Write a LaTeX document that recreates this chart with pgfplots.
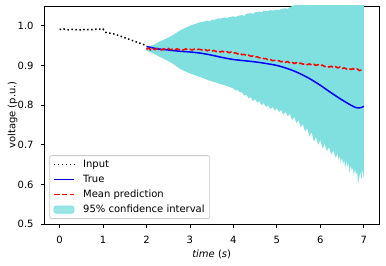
\documentclass[border=0pt]{standalone}
\usepackage{pgfplots}
\pgfplotsset{compat=1.18}
\usepackage{fontspec}
\setmainfont{DejaVu Sans}
\definecolor{bandc}{rgb}{0.5,0.875,0.875}
\definecolor{legframe}{rgb}{0.8,0.8,0.8}
\begin{document}
\fontsize{10}{12}\selectfont
\begin{tikzpicture}
\begin{axis}[
  scale only axis,
  width=334.7pt, height=218pt,
  xmin=-0.35, xmax=7.35, ymin=0.5, ymax=1.05,
  xtick={0,1,2,3,4,5,6,7},
  ytick={0.5,0.6,0.7,0.8,0.9,1.0},
  xtick pos=left, ytick pos=left,
  tick align=outside,
  major tick length=3.5pt,
  every tick/.style={line width=0.8pt, black},
  axis line style={line width=0.8pt},
  /pgf/number format/assume math mode=true,
  yticklabel style={/pgf/number format/.cd, fixed, fixed zerofill, precision=1},
  xticklabel shift=5pt,
  yticklabel shift=3.7pt,
  ticklabel style={font=\fontsize{10}{12}\selectfont},
  label style={font=\fontsize{10}{12}\selectfont},
  every axis x label/.style={at={(axis description cs:0.5,-0.152)}, anchor=base},
  every axis y label/.style={at={(axis description cs:-0.0866,0.5)}, rotate=90, anchor=base},
  xlabel={\textit{time} (\textit{s})},
  ylabel={voltage (p.u.)},
  legend cell align=left,
  legend style={at={(axis description cs:0,0)}, anchor=south west, xshift=5pt, yshift=5pt,
    draw=legframe, line width=0.8pt, rounded corners=2pt, fill=white, fill opacity=0.8, text opacity=1,
    font=\fontsize{10}{12}\selectfont,
    inner xsep=3.5pt, inner ysep=1.5pt, row sep=0pt, column sep=7pt,
    nodes={inner xsep=1.5pt, inner ysep=2pt, text height=8pt, text depth=3pt}},
  legend image code/.code={\draw[line width=1.5pt, #1] (0pt,0pt) -- (20pt,0pt);},
]
% confidence band
\addplot[fill=bandc, draw=none, forget plot] coordinates {
(2.00,0.945) (2.10,0.949) (2.20,0.954) (2.30,0.960) (2.40,0.965) (2.50,0.970)
(2.60,0.976) (2.70,0.983) (2.80,0.990) (2.90,0.995) (3.00,1.000) (3.10,1.004)
(3.20,1.008) (3.30,1.010) (3.40,1.013) (3.45,1.011) (3.50,1.015) (3.60,1.016)
(3.65,1.019) (3.70,1.018) (3.80,1.021) (3.85,1.019) (3.90,1.022) (4.00,1.024)
(4.05,1.022) (4.10,1.025) (4.20,1.027) (4.25,1.025) (4.30,1.030) (4.40,1.032)
(4.45,1.030) (4.50,1.034) (4.60,1.036) (4.65,1.034) (4.70,1.038) (4.80,1.037)
(4.85,1.040) (4.90,1.038) (5.00,1.041) (5.05,1.039) (5.10,1.043) (5.20,1.044)
(5.25,1.042) (5.30,1.047) (5.40,1.052) (5.50,1.060) (6.00,1.095) (6.50,1.126)
(7.00,1.157)
(7.00,0.615) (6.97,0.640) (6.95,0.612) (6.92,0.632) (6.90,0.620) (6.87,0.602)
(6.85,0.630) (6.82,0.626) (6.80,0.640) (6.77,0.622) (6.75,0.642) (6.72,0.635)
(6.70,0.650) (6.67,0.628) (6.65,0.655) (6.62,0.645) (6.60,0.660) (6.57,0.640)
(6.55,0.662) (6.52,0.650) (6.50,0.668) (6.47,0.655) (6.45,0.672) (6.42,0.662)
(6.40,0.678) (6.35,0.668) (6.30,0.685) (6.25,0.675) (6.20,0.694) (6.15,0.684)
(6.10,0.703) (6.05,0.690) (6.00,0.712) (5.95,0.700) (5.90,0.720) (5.85,0.708)
(5.80,0.732) (5.75,0.720) (5.70,0.742) (5.65,0.733) (5.60,0.752) (5.55,0.744)
(5.50,0.762) (5.45,0.755) (5.40,0.770) (5.35,0.762) (5.30,0.778) (5.25,0.772)
(5.20,0.783) (5.15,0.776) (5.10,0.788) (5.05,0.782) (5.00,0.792) (4.95,0.786)
(4.90,0.796) (4.85,0.790) (4.80,0.800) (4.75,0.795) (4.70,0.805) (4.65,0.800)
(4.60,0.810) (4.55,0.806) (4.50,0.815) (4.45,0.810) (4.40,0.820) (4.35,0.817)
(4.30,0.826) (4.25,0.824) (4.20,0.832) (4.15,0.832) (4.10,0.838) (4.05,0.837)
(4.00,0.842) (3.90,0.846) (3.80,0.850) (3.70,0.853) (3.60,0.857) (3.50,0.860)
(3.40,0.864) (3.30,0.868) (3.20,0.872) (3.10,0.876) (3.00,0.880) (2.90,0.885)
(2.80,0.890) (2.70,0.897) (2.60,0.905) (2.50,0.911) (2.40,0.917) (2.30,0.922)
(2.20,0.928) (2.10,0.933) (2.00,0.937)
} -- cycle;
% input
\addplot[black, line width=1.5pt, dash pattern=on 1.5pt off 2.475pt] coordinates {
(0.00,0.991) (0.10,0.992) (0.20,0.990) (0.30,0.991) (0.40,0.990) (0.50,0.990)
(0.60,0.991) (0.70,0.990) (0.80,0.991) (0.90,0.992) (0.95,0.991) (1.00,0.992)
(1.05,0.984) (1.10,0.982) (1.20,0.981) (1.30,0.978) (1.40,0.974) (1.50,0.970)
(1.60,0.966) (1.70,0.962) (1.80,0.958) (1.90,0.954) (2.00,0.950)
};
\addlegendentry{Input}
% true
\addplot[blue, line width=1.5pt, smooth] coordinates {
(2.00,0.948) (2.25,0.942) (2.50,0.939) (2.75,0.936) (3.00,0.934) (3.25,0.931)
(3.50,0.926) (3.75,0.920) (4.00,0.915) (4.25,0.912) (4.50,0.909) (4.75,0.905)
(5.00,0.900) (5.25,0.892) (5.50,0.881) (5.75,0.867) (6.00,0.850) (6.25,0.831)
(6.50,0.813) (6.75,0.797) (6.85,0.793) (6.95,0.794) (7.00,0.797)
};
\addlegendentry{True}
% mean prediction
\addplot[red, line width=1.5pt, dash pattern=on 5.55pt off 2.4pt] coordinates {
(2.00,0.941) (2.05,0.944) (2.10,0.939) (2.15,0.942) (2.20,0.940) (2.25,0.943)
(2.30,0.941) (2.35,0.939) (2.40,0.942) (2.45,0.940) (2.50,0.943) (2.55,0.940)
(2.60,0.941) (2.65,0.939) (2.70,0.942) (2.75,0.940) (2.80,0.941) (2.85,0.939)
(2.90,0.942) (2.95,0.940) (3.00,0.941) (3.05,0.939) (3.10,0.941) (3.15,0.939)
(3.20,0.941) (3.25,0.940) (3.30,0.938) (3.35,0.940) (3.40,0.937) (3.45,0.939)
(3.50,0.936) (3.55,0.938) (3.60,0.935) (3.65,0.937) (3.70,0.934) (3.75,0.936)
(3.80,0.933) (3.85,0.935) (3.90,0.932) (3.95,0.934) (4.00,0.931) (4.05,0.932)
(4.10,0.929) (4.15,0.931) (4.20,0.927) (4.25,0.928) (4.30,0.925) (4.35,0.926)
(4.40,0.923) (4.45,0.924) (4.50,0.921) (4.55,0.922) (4.60,0.919) (4.65,0.920)
(4.70,0.917) (4.75,0.917) (4.80,0.914) (4.85,0.915) (4.90,0.912) (4.95,0.913)
(5.00,0.911) (5.05,0.912) (5.10,0.909) (5.15,0.911) (5.20,0.908) (5.25,0.910)
(5.30,0.906) (5.35,0.908) (5.40,0.905) (5.45,0.907) (5.50,0.904) (5.55,0.906)
(5.60,0.903) (5.65,0.905) (5.70,0.902) (5.75,0.904) (5.80,0.901) (5.85,0.903)
(5.90,0.900) (5.95,0.902) (6.00,0.899) (6.05,0.901) (6.10,0.897) (6.15,0.899)
(6.20,0.896) (6.25,0.898) (6.30,0.895) (6.35,0.897) (6.40,0.894) (6.45,0.896)
(6.50,0.892) (6.55,0.894) (6.60,0.891) (6.65,0.893) (6.70,0.890) (6.75,0.892)
(6.80,0.889) (6.85,0.891) (6.90,0.887) (6.95,0.889) (7.00,0.888)
};
\addlegendentry{Mean prediction}
\addlegendimage{legend image code/.code={\fill[bandc] (0pt,-3.5pt) rectangle (20pt,3.5pt);}}
\addlegendentry{95\% confidence interval}
\end{axis}
\pgfresetboundingbox
\path ([shift={(-44.3pt,-41pt)}]current axis.south west) rectangle ([shift={(7pt,6pt)}]current axis.north east);
\end{tikzpicture}
\end{document}
